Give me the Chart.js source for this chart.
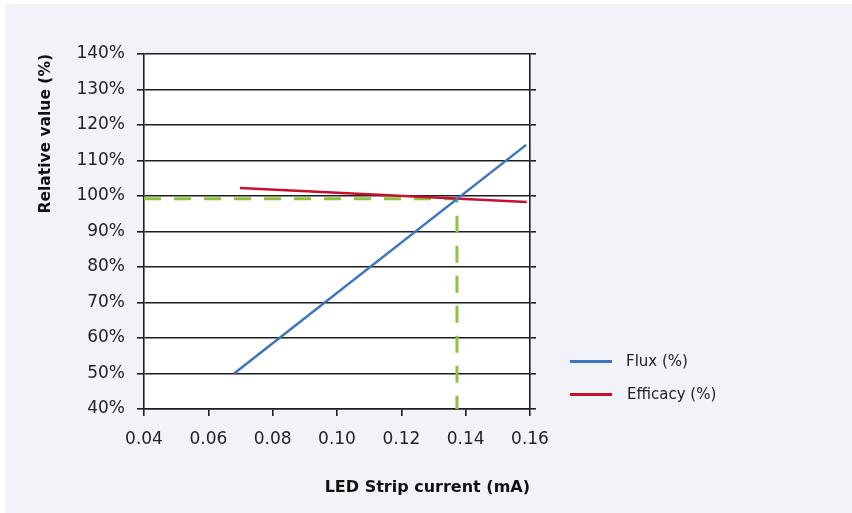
<!DOCTYPE html>
<html>
<head>
<meta charset="utf-8">
<script src="https://cdn.jsdelivr.net/npm/chart.js@4/dist/chart.umd.min.js"></script>
<style>
  html, body { margin: 0; padding: 0; background: #ffffff; }
  #panel { position: absolute; left: 5px; top: 4px; width: 847px; height: 509px; background: #f2f3f8; }
  #wrap { position: absolute; left: 0; top: 0; width: 852px; height: 513px; }
  #plotbg { position: absolute; left: 144px; top: 54px; width: 386px; height: 355px; background: #ffffff; }
  .leg { position: absolute; font-family: "DejaVu Sans", sans-serif; font-size: 15px; color: #222; }
  .legline { position: absolute; height: 2.5px; width: 42px; }
</style>
</head>
<body>
<div id="panel"></div>
<div id="plotbg"></div>
<div id="wrap"><canvas id="c" width="852" height="513"></canvas></div>
<div class="legline" style="left:570px; top:360px; background:#3b74c2;"></div>
<div class="leg" style="left:626px; top:352px;">Flux (%)</div>
<div class="legline" style="left:570px; top:393px; background:#c8102e;"></div>
<div class="leg" style="left:627px; top:385px;">Efficacy (%)</div>
<script>
// Data
const fluxX = [0.068, 0.1588];
const fluxY = [50.0, 114.4];
const effX = [0.0698, 0.159];
const effY = [102.25, 98.3];
const refX = [0.04, 0.1373, 0.1373];
const refY = [99.2, 99.2, 40];
const xTicks = [0.04, 0.06, 0.08, 0.10, 0.12, 0.14, 0.16];
const yTicks = [40, 50, 60, 70, 80, 90, 100, 110, 120, 130, 140];

const pts = (xs, ys) => xs.map((x, i) => ({ x: x, y: ys[i] }));
const dark = '#1e1e1e';

new Chart(document.getElementById('c'), {
  type: 'scatter',
  data: {
    datasets: [
      { label: 'Flux (%)', data: pts(fluxX, fluxY), showLine: true, borderColor: '#3b74c2', borderWidth: 2.5, pointRadius: 0, yAxisID: 'y' },
      { label: 'Efficacy (%)', data: pts(effX, effY), showLine: true, borderColor: '#c8102e', borderWidth: 2.5, pointRadius: 0, yAxisID: 'y' },
      { label: 'ref', data: pts(refX, refY), showLine: true, borderColor: '#8cc43f', borderWidth: 3, borderDash: [17, 13], pointRadius: 0, yAxisID: 'y' }
    ]
  },
  options: {
    responsive: false,
    animation: false,
    layout: { padding: { top: 54, right: 312, bottom: 0, left: 0 } },
    plugins: { legend: { display: false }, tooltip: { enabled: false } },
    scales: {
      x: {
        type: 'linear', min: 0.04, max: 0.16,
        afterBuildTicks: (s) => { s.ticks = xTicks.map(v => ({ value: v })); },
        afterFit: (s) => { s.height = 104; },
        ticks: { callback: (v) => v.toFixed(2), color: '#222', font: { family: 'DejaVu Sans', size: 17 }, padding: 13, maxRotation: 0, autoSkip: false },
        grid: { drawOnChartArea: false, drawTicks: true, tickLength: 7, color: dark, lineWidth: 1.6 },
        border: { display: true, color: dark, width: 1.6 },
        title: { display: true, text: 'LED Strip current (mA)', align: 'end', color: '#111', font: { family: 'DejaVu Sans', size: 16, weight: 'bold' }, padding: { top: 0, bottom: 16 } }
      },
      y: {
        type: 'linear', position: 'left', min: 40, max: 140,
        afterBuildTicks: (s) => { s.ticks = yTicks.map(v => ({ value: v })); },
        afterFit: (s) => { s.width = 144; },
        ticks: { callback: (v) => v + '%', color: '#222', font: { family: 'DejaVu Sans', size: 17 }, padding: 12 },
        grid: { drawOnChartArea: true, drawTicks: true, tickLength: 7, color: dark, lineWidth: 1.6 },
        border: { display: true, color: dark, width: 1.6 },
        title: { display: true, text: 'Relative value (%)', align: 'end', color: '#111', font: { family: 'DejaVu Sans', size: 15.5, weight: 'bold' }, padding: { top: 37, bottom: 0 } }
      },
      y2: {
        type: 'linear', position: 'right', min: 40, max: 140,
        afterBuildTicks: (s) => { s.ticks = yTicks.map(v => ({ value: v })); },
        afterFit: (s) => { s.width = 10; },
        ticks: { display: false },
        grid: { drawOnChartArea: false, drawTicks: true, tickLength: 6, color: dark, lineWidth: 1.6 },
        border: { display: true, color: dark, width: 1.6 }
      }
    }
  }
});
</script>
</body>
</html>
